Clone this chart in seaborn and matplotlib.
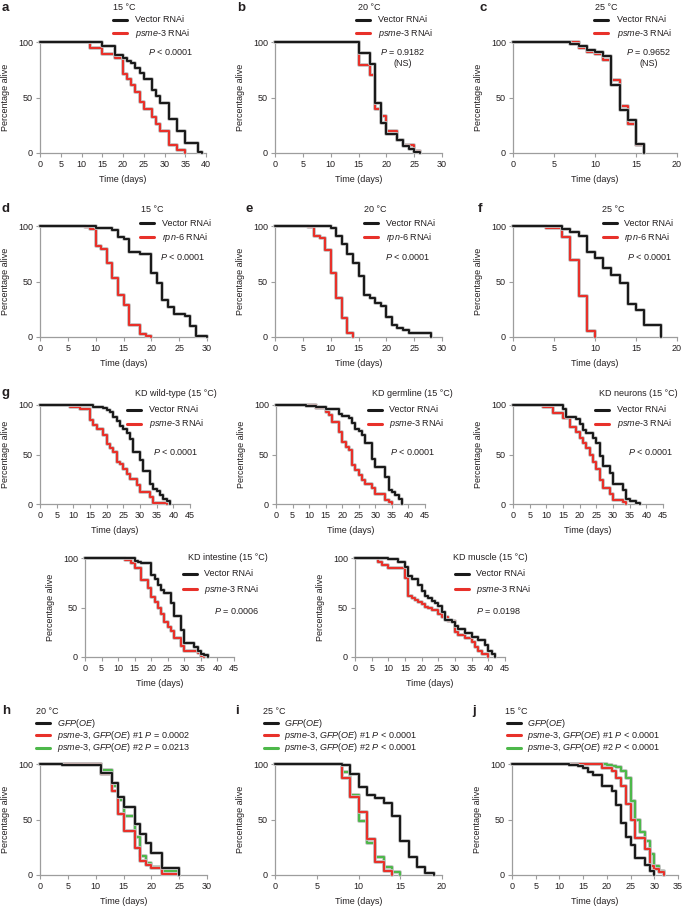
import matplotlib
matplotlib.use("Agg")
import matplotlib.pyplot as plt
import matplotlib.patheffects as pe
from matplotlib.lines import Line2D
import seaborn as sns

sns.set_theme(style="ticks")
plt.rcParams['font.family'] = ['Liberation Sans', 'DejaVu Sans']
plt.rcParams['mathtext.fontset'] = 'custom'
plt.rcParams['mathtext.rm'] = 'Liberation Sans'
plt.rcParams['mathtext.it'] = 'Liberation Sans:italic'

W, H = 685, 907
TXT = '#231f20'
BLACK = '#1a1a1a'
RED = '#e8312a'
GREEN = '#4db84a'
GREY = '#9d9d9d'

# ---- data: death times (days) and % alive after each step ----
a_vec_t = [15, 18, 20, 21, 22, 23, 24, 25, 27, 28, 29, 31, 33, 35, 38, 39]
a_vec_s = [96, 88, 86, 83, 81, 77, 72, 67, 57, 51, 45, 31, 20, 9, 1, 0]
a_rnai_t = [12, 15, 18, 20, 21, 22, 23, 24, 25, 27, 28, 29, 31, 33, 35]
a_rnai_s = [95, 89, 86, 71, 67, 61, 55, 46, 40, 32, 26, 20, 7, 3, 0]

b_vec_t = [15, 17, 18, 19, 20, 22, 23, 24, 25, 26]
b_vec_s = [90, 80, 45, 27, 17, 12, 6, 4, 1, 0]
b_rnai_t = [15, 17, 18, 19, 20, 22, 23, 25, 26]
b_rnai_s = [79, 70, 40, 33, 20, 12, 7, 2, 0]

c_vec_t = [7, 8, 9, 10, 11, 12, 13, 14, 15, 16]
c_vec_s = [98, 96, 93, 91, 87, 61, 39, 30, 8, 0]
c_rnai_t = [8, 9, 10, 11, 12, 13, 14, 15, 16]
c_rnai_s = [95, 91, 89, 84, 66, 42, 26, 7, 0]

d_vec_t = [10, 13, 14, 15, 16, 18, 20, 21, 22, 23, 24, 26, 27, 28, 30]
d_vec_s = [98, 96, 90, 88, 77, 75, 58, 49, 33, 27, 21, 19, 10, 1, 0]
d_rnai_t = [8, 9, 10, 11, 12, 13, 14, 15, 16, 18, 19, 20]
d_rnai_s = [99, 97, 82, 79, 67, 53, 38, 29, 11, 3, 1, 0]

e_vec_t = [10, 11, 12, 13, 14, 15, 16, 17, 18, 19, 20, 21, 22, 23, 24, 28]
e_vec_s = [98, 91, 84, 75, 67, 55, 38, 35, 31, 28, 18, 11, 8, 6, 4, 0]
e_rnai_t = [6, 7, 8, 9, 10, 11, 12, 13, 14]
e_rnai_s = [99, 91, 89, 78, 58, 35, 17, 4, 0]

f_vec_t = [6, 7, 8, 9, 10, 11, 12, 13, 14, 15, 16, 18]
f_vec_s = [97, 95, 91, 77, 71, 62, 56, 49, 30, 24, 11, 0]
f_rnai_t = [4, 6, 7, 8, 9, 10]
f_rnai_s = [98, 90, 69, 37, 5, 0]

gw_vec_t = [16, 19, 20, 21, 22, 23, 24, 25, 26, 27, 28, 30, 31, 33, 34, 35, 36, 37, 38, 39]
gw_vec_s = [98, 97, 95, 93, 88, 84, 79, 76, 72, 66, 53, 44, 33, 20, 15, 13, 9, 5, 3, 0]
gw_rnai_t = [9, 12, 15, 16, 17, 19, 20, 21, 22, 23, 24, 25, 26, 27, 29, 30, 33, 34, 38]
gw_rnai_s = [98, 96, 85, 80, 76, 70, 61, 57, 53, 42, 40, 35, 30, 25, 19, 12, 7, 1, 0]

gg_vec_t = [9, 12, 15, 19, 20, 22, 23, 24, 25, 26, 27, 29, 30, 33, 34, 35, 36, 37, 38]
gg_vec_s = [99, 98, 96, 91, 89, 87, 82, 76, 74, 70, 62, 45, 37, 27, 14, 12, 9, 5, 0]
gg_rnai_t = [12, 15, 16, 17, 19, 20, 21, 22, 23, 24, 25, 26, 27, 29, 30, 33, 34, 35]
gg_rnai_s = [97, 93, 90, 83, 73, 63, 58, 55, 39, 34, 29, 24, 20, 16, 10, 4, 2, 0]

gn_vec_t = [15, 16, 19, 20, 21, 22, 24, 25, 26, 27, 29, 30, 33, 34, 35, 37, 38]
gn_vec_s = [96, 88, 86, 81, 75, 72, 67, 62, 48, 38, 31, 20, 14, 5, 3, 1, 0]
gn_rnai_t = [9, 12, 15, 17, 19, 20, 21, 22, 23, 24, 25, 26, 27, 29, 30, 33, 34]
gn_rnai_s = [98, 92, 87, 78, 73, 67, 62, 57, 50, 42, 35, 24, 16, 10, 4, 2, 0]

gi_vec_t = [15, 16, 17, 20, 21, 22, 23, 24, 26, 27, 29, 30, 33, 34, 35, 36, 37]
gi_vec_s = [97, 96, 95, 83, 79, 73, 68, 65, 55, 41, 27, 14, 10, 6, 3, 2, 0]
gi_rnai_t = [12, 14, 15, 17, 19, 20, 21, 22, 23, 24, 25, 26, 27, 29, 30, 34, 35, 36]
gi_rnai_s = [98, 95, 90, 78, 70, 61, 56, 50, 43, 35, 30, 26, 19, 11, 6, 4, 1, 0]

gm_vec_t = [10, 13, 15, 16, 17, 19, 20, 21, 22, 23, 24, 25, 26, 27, 29, 30, 31, 33, 35, 37, 39, 40, 41, 42]
gm_vec_s = [99, 96, 91, 82, 79, 73, 67, 62, 60, 57, 55, 52, 45, 37, 35, 31, 28, 24, 20, 17, 12, 6, 3, 0]
gm_rnai_t = [7, 8, 10, 15, 16, 17, 18, 19, 20, 21, 22, 23, 25, 26, 28, 30, 31, 33, 35, 36, 37, 38, 40]
gm_rnai_s = [96, 93, 90, 80, 62, 60, 58, 56, 54, 51, 49, 47, 43, 40, 36, 25, 22, 19, 15, 10, 6, 3, 0]

h_gfp_t = [4, 11, 13, 14, 15, 17, 18, 19, 20, 22, 25]
h_gfp_s = [99, 92, 83, 70, 61, 46, 37, 29, 20, 6, 0]
h_oe1_t = [11, 13, 14, 15, 17, 18, 19, 20, 22, 25]
h_oe1_s = [91, 76, 55, 40, 24, 13, 9, 6, 1, 0]
h_oe2_t = [11, 13, 14, 15, 17, 18, 19, 20, 22, 25]
h_oe2_s = [95, 80, 68, 53, 34, 17, 11, 7, 4, 0]

i_gfp_t = [8, 9, 10, 11, 12, 13, 14, 15, 16, 17, 18, 19]
i_gfp_s = [99, 91, 79, 72, 69, 65, 53, 31, 16, 7, 2, 0]
i_oe1_t = [8, 9, 10, 11, 12, 13, 14]
i_oe1_s = [87, 70, 57, 32, 12, 4, 0]
i_oe2_t = [8, 9, 10, 11, 12, 13, 14, 15]
i_oe2_s = [93, 72, 49, 29, 16, 7, 3, 0]

j_gfp_t = [12, 14, 15, 16, 17, 19, 21, 22, 23, 24, 25, 26, 28, 29, 30]
j_gfp_s = [99, 98, 96, 93, 90, 80, 76, 63, 47, 34, 27, 15, 9, 4, 0]
j_oe1_t = [19, 21, 22, 23, 24, 25, 26, 28, 29, 30, 31, 32]
j_oe1_s = [96, 94, 87, 80, 64, 50, 33, 23, 8, 5, 3, 0]
j_oe2_t = [20, 21, 22, 23, 24, 25, 26, 27, 28, 29, 30, 31, 32]
j_oe2_s = [99, 98, 97, 94, 87, 67, 50, 39, 31, 19, 8, 4, 0]

# ---- labels ----
VEC = 'Vector RNAi'
PSME = r'$\it{psme}$-$\it{3}$ RNAi'
RPN = r'$\it{rpn}$-$\it{6}$ RNAi'
GFP = r'$\it{GFP(OE)}$'


def oe(n, p):
    return r'$\it{psme}$-$\it{3}$, $\it{GFP(OE)}$ #' + n + r' $\it{P}$ ' + p


fig = plt.figure(figsize=(W / 100, H / 100), dpi=100)
fig.patch.set_facecolor('white')


def fx(x):
    return x / W


def fy(y):
    return 1 - y / H


def txt(x, y, s, ha='left', va='center', size=6.5, weight='normal'):
    fig.text(fx(x), fy(y), s, ha=ha, va=va, fontsize=size, weight=weight, color=TXT)


def panel(l, r, top, bot, xmax):
    ax = fig.add_axes([fx(l), fy(bot), (r - l) / W, (bot - top) / H])
    ax.set_xlim(0, xmax)
    ax.set_ylim(0, 100)
    ax.set_xticks(range(0, xmax + 1, 5))
    ax.set_yticks([0, 50, 100])
    sns.despine(ax=ax)
    for sp in ['left', 'bottom']:
        ax.spines[sp].set_color(GREY)
        ax.spines[sp].set_linewidth(0.9)
    ax.tick_params(length=3, width=0.8, color=GREY, labelsize=6.5, labelcolor=TXT, pad=2)
    ax.set_xlabel('Time (days)', fontsize=6.5, color=TXT)
    ax.set_ylabel('Percentage alive', fontsize=6.5, color=TXT)
    ax.xaxis.set_label_coords(0.5, -22 / (bot - top))
    ax.yaxis.set_label_coords(-30 / (r - l), 0.5)
    return ax


def curve(ax, t, s, color):
    x = [0] + list(t)
    y = [100] + list(s)
    sns.lineplot(x=x, y=y, ax=ax, color=color, drawstyle='steps-post', lw=1.5,
                 estimator=None, sort=False, legend=False, clip_on=False, zorder=3,
                 path_effects=[pe.withStroke(linewidth=2.7, foreground='#c4c4c4')])


def legend(x0, x1, xt, ys, items):
    for y, (lab, col) in zip(ys, items):
        fig.add_artist(Line2D([fx(x0), fx(x1)], [fy(y), fy(y)], color=col, lw=2.2,
                              transform=fig.transFigure))
        txt(xt, y, lab)


def letter(x, y, s):
    txt(x, y, s, size=9.5, weight='bold')


# ---- row 1: psme-3 RNAi at three temperatures ----
ax = panel(40, 206, 42, 153, 40)
curve(ax, a_rnai_t, a_rnai_s, RED)
curve(ax, a_vec_t, a_vec_s, BLACK)
ax = panel(275, 442, 42, 153, 30)
curve(ax, b_rnai_t, b_rnai_s, RED)
curve(ax, b_vec_t, b_vec_s, BLACK)
ax = panel(513, 677, 42, 153, 20)
curve(ax, c_rnai_t, c_rnai_s, RED)
curve(ax, c_vec_t, c_vec_s, BLACK)

letter(2, 8, 'a'); letter(237, 8, 'b'); letter(479, 8, 'c')
txt(113, 7, '15 °C'); txt(358, 7, '20 °C'); txt(595, 7, '25 °C')
legend(113, 127, 135, [20, 33], [(VEC, BLACK), (PSME, RED)])
legend(356, 370, 378, [20, 33], [(VEC, BLACK), (PSME, RED)])
legend(594, 608, 617, [20, 33], [(VEC, BLACK), (PSME, RED)])
txt(148, 52, r'$\it{P}$ < 0.0001')
txt(403, 52, r'$\it{P}$ = 0.9182', ha='center'); txt(403, 63, '(NS)', ha='center')
txt(649, 52, r'$\it{P}$ = 0.9652', ha='center'); txt(649, 63, '(NS)', ha='center')

# ---- row 2: rpn-6 RNAi ----
ax = panel(40, 207, 226, 337, 30)
curve(ax, d_rnai_t, d_rnai_s, RED)
curve(ax, d_vec_t, d_vec_s, BLACK)
ax = panel(275, 442, 226, 337, 30)
curve(ax, e_rnai_t, e_rnai_s, RED)
curve(ax, e_vec_t, e_vec_s, BLACK)
ax = panel(513, 677, 226, 337, 20)
curve(ax, f_rnai_t, f_rnai_s, RED)
curve(ax, f_vec_t, f_vec_s, BLACK)

letter(2, 209, 'd'); letter(246, 209, 'e'); letter(478, 209, 'f')
txt(141, 210, '15 °C'); txt(364, 210, '20 °C'); txt(602, 210, '25 °C')
legend(140, 154, 162, [223, 237], [(VEC, BLACK), (RPN, RED)])
legend(364, 378, 386, [223, 237], [(VEC, BLACK), (RPN, RED)])
legend(603, 617, 624, [223, 237], [(VEC, BLACK), (RPN, RED)])
txt(160, 257, r'$\it{P}$ < 0.0001')
txt(385, 257, r'$\it{P}$ < 0.0001')
txt(627, 257, r'$\it{P}$ < 0.0001')

# ---- row 3/4: tissue-specific knockdown ----
ax = panel(40, 190, 405, 504, 45)
curve(ax, gw_rnai_t, gw_rnai_s, RED)
curve(ax, gw_vec_t, gw_vec_s, BLACK)
ax = panel(276, 425, 405, 504, 45)
curve(ax, gg_rnai_t, gg_rnai_s, RED)
curve(ax, gg_vec_t, gg_vec_s, BLACK)
ax = panel(513, 663, 405, 504, 45)
curve(ax, gn_rnai_t, gn_rnai_s, RED)
curve(ax, gn_vec_t, gn_vec_s, BLACK)
ax = panel(85, 234, 558, 657, 45)
curve(ax, gi_rnai_t, gi_rnai_s, RED)
curve(ax, gi_vec_t, gi_vec_s, BLACK)
ax = panel(355, 505, 558, 657, 45)
curve(ax, gm_rnai_t, gm_rnai_s, RED)
curve(ax, gm_vec_t, gm_vec_s, BLACK)

letter(2, 393, 'g')
txt(217, 393, 'KD wild-type (15 °C)', ha='right')
txt(453, 393, 'KD germline (15 °C)', ha='right')
txt(678, 393, 'KD neurons (15 °C)', ha='right')
txt(268, 557, 'KD intestine (15 °C)', ha='right')
txt(528, 557, 'KD muscle (15 °C)', ha='right')
legend(127, 141, 149, [410, 424], [(VEC, BLACK), (PSME, RED)])
legend(368, 382, 389, [410, 424], [(VEC, BLACK), (PSME, RED)])
legend(595, 609, 617, [410, 424], [(VEC, BLACK), (PSME, RED)])
legend(183, 197, 204, [574, 589], [(VEC, BLACK), (PSME, RED)])
legend(455, 469, 476, [574, 589], [(VEC, BLACK), (PSME, RED)])
txt(153, 452, r'$\it{P}$ < 0.0001')
txt(390, 452, r'$\it{P}$ < 0.0001')
txt(628, 452, r'$\it{P}$ < 0.0001')
txt(214, 611, r'$\it{P}$ = 0.0006')
txt(476, 611, r'$\it{P}$ = 0.0198')

# ---- row 5: psme-3 overexpression ----
ax = panel(40, 207, 764, 875, 30)
curve(ax, h_oe2_t, h_oe2_s, GREEN)
curve(ax, h_oe1_t, h_oe1_s, RED)
curve(ax, h_gfp_t, h_gfp_s, BLACK)
ax = panel(275, 442, 764, 875, 20)
curve(ax, i_oe2_t, i_oe2_s, GREEN)
curve(ax, i_oe1_t, i_oe1_s, RED)
curve(ax, i_gfp_t, i_gfp_s, BLACK)
ax = panel(512, 678, 764, 875, 35)
curve(ax, j_oe2_t, j_oe2_s, GREEN)
curve(ax, j_oe1_t, j_oe1_s, RED)
curve(ax, j_gfp_t, j_gfp_s, BLACK)

letter(2, 711, 'h'); letter(235, 711, 'i'); letter(472, 711, 'j')
txt(36, 711, '20 °C'); txt(263, 711, '25 °C'); txt(505, 711, '15 °C')
legend(36, 50, 57, [723, 735, 748],
       [(GFP, BLACK), (oe('1', '= 0.0002'), RED), (oe('2', '= 0.0213'), GREEN)])
legend(264, 278, 284, [723, 735, 748],
       [(GFP, BLACK), (oe('1', '< 0.0001'), RED), (oe('2', '< 0.0001'), GREEN)])
legend(507, 521, 527, [723, 735, 748],
       [(GFP, BLACK), (oe('1', '< 0.0001'), RED), (oe('2', '< 0.0001'), GREEN)])

fig.savefig('out.png', dpi=100, facecolor='white')
